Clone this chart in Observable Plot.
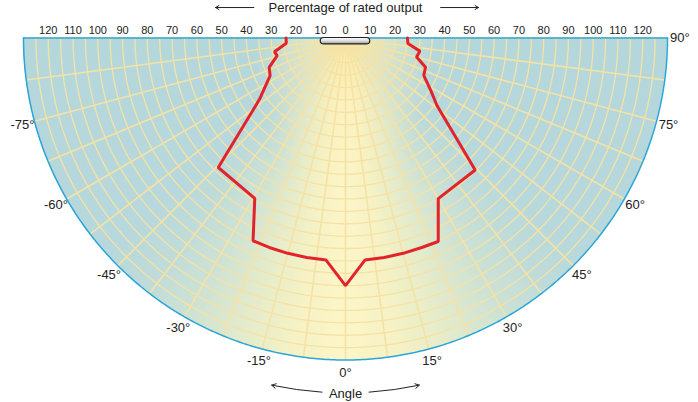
<!DOCTYPE html>
<html><head><meta charset="utf-8">
<script src="https://cdn.jsdelivr.net/npm/d3@7"></script>
<script src="https://cdn.jsdelivr.net/npm/@observablehq/plot@0.6"></script>
<style>
body{margin:0;background:#fff;}
#chart svg{display:block;}
</style>
</head><body><div id="chart"></div>
<script>
// Light distribution: angle from nadir (degrees, + to the right) and percentage of rated output
const curveAngles = [-90, -85, -79, -75.5, -69, -63.5, -55, -53, -44.5, -29.5, -24.5, -20, -15, -10, -5, 0,
                      5, 10, 15, 20, 24.5, 30, 44.5, 53.5, 58.5, 64.5, 70, 75, 80, 85, 90];
const curveValues = [24, 24, 29.2, 28.5, 33, 34, 42, 45.4, 73.3, 74.4, 90, 90, 90, 90, 90, 100,
                      90, 90, 90, 90, 90.3, 74.9, 74.7, 46, 40.3, 35, 34.4, 29.7, 30.5, 25.3, 25];
const outputTicks = [0, 10, 20, 30, 40, 50, 60, 70, 80, 90, 100, 110, 120];
const angleTicks = [-75, -60, -45, -30, -15, 0, 15, 30, 45, 60, 75, 90];
const maxOutput = 130;
const gridRadii = d3.range(5, maxOutput, 5);
const gridAngles = d3.range(-90, 90.01, 7.5);
const luminaire = [{from: -10, to: 10}];
const titleArrows = [{from: -37, to: -52.5}, {from: 38.4, to: 53.7}];
const angleArrowLeft = [{from: -3.8, to: -12}];
const angleArrowRight = [{from: 3.8, to: 12}];
const arrowRadius = 143.3;

const rad = a => a * Math.PI / 180;
const px = (r, a) => r * Math.sin(rad(a));
const py = (r, a) => r * Math.cos(rad(a));

const curve = curveAngles.map((a, i) => ({angle: a, value: curveValues[i]}));
const arcRows = gridRadii.flatMap(r => d3.range(-90, 90.01, 1).map(a => ({r, a})));
const rimRows = d3.range(-90, 90.01, 0.5).map(a => ({r: maxOutput, a}));
const tickRows = [...outputTicks.filter(v => v > 0).map(v => -v).reverse(), ...outputTicks];

const font = "'Liberation Sans', Arial, sans-serif";
const gridColor = "#f5e2a4";
const rimColor = "#2aa5da";

const arrowOpts = (bend) => ({
  x1: d => px(arrowRadius, d.from), y1: d => py(arrowRadius, d.from),
  x2: d => px(arrowRadius, d.to), y2: d => py(arrowRadius, d.to),
  bend, stroke: "#222", strokeWidth: 1, headLength: 7
});

const plot = Plot.plot({
  width: 698, height: 402,
  marginLeft: 23, marginRight: 31, marginTop: 37.5, marginBottom: 42.5,
  x: {domain: [-maxOutput, maxOutput], axis: null},
  y: {domain: [0, maxOutput], reverse: true, axis: null},
  style: {fontFamily: font, fontSize: "12px", color: "#222", background: "transparent"},
  marks: [
    Plot.line(arcRows, {x: d => px(d.r, d.a), y: d => py(d.r, d.a), z: "r", stroke: gridColor, strokeWidth: 1.3}),
    Plot.link(gridAngles, {x1: 0, y1: 0, x2: a => px(maxOutput, a), y2: a => py(maxOutput, a), stroke: gridColor, strokeWidth: 1.6}),
    Plot.line(rimRows, {x: d => px(d.r, d.a), y: d => py(d.r, d.a), stroke: rimColor, strokeWidth: 1.5}),
    Plot.line([-maxOutput, maxOutput], {x: d => d, y: 0, stroke: rimColor, strokeWidth: 1.5}),
    Plot.line(curve, {x: d => px(d.value, d.angle), y: d => py(d.value, d.angle), stroke: "#e2232a", strokeWidth: 3, strokeLinejoin: "miter"}),
    Plot.rect(luminaire, {x1: "from", x2: "to", y1: 0, y2: 2.6, rx: 3.5, fill: "url(#barGrad)", stroke: "#222", strokeWidth: 1.2}),
    Plot.text(tickRows, {x: d => d, y: 0, text: d => String(Math.abs(d)), dy: -8, fontSize: 11, fill: "#222"}),
    Plot.text(angleTicks, {x: a => px(135, a), y: a => py(135, a), text: a => `${a}°`, fontSize: 13, fill: "#222"}),
    Plot.text(["Percentage of rated output"], {x: 0, y: -12.1, text: d => d, fontSize: 13, fill: "#222"}),
    Plot.arrow(titleArrows, {x1: "from", x2: "to", y1: -12.3, y2: -12.3, stroke: "#222", strokeWidth: 1, headLength: 6}),
    Plot.text(["Angle"], {x: 0, y: 143.6, text: d => d, fontSize: 13, fill: "#222"}),
    Plot.arrow(angleArrowLeft, arrowOpts(4)),
    Plot.arrow(angleArrowRight, arrowOpts(-4))
  ]
});

document.getElementById("chart").appendChild(plot);

// Decorative background: light beam shading (clipped semicircle) and luminaire gradient
const svg = d3.select(plot);
const xs = plot.scale("x"), ys = plot.scale("y");
const cx = xs.apply(0), cy = ys.apply(0);
const R = xs.apply(maxOutput) - cx;

const defs = svg.insert("defs", ":first-child");
const g = defs.append("linearGradient").attr("id", "barGrad").attr("x1", 0).attr("y1", 0).attr("x2", 0).attr("y2", 1);
g.append("stop").attr("offset", "0%").attr("stop-color", "#ffffff");
g.append("stop").attr("offset", "45%").attr("stop-color", "#e4e4e4");
g.append("stop").attr("offset", "100%").attr("stop-color", "#9a9a9a");

const fo = svg.insert("foreignObject", "defs + *")
  .attr("x", cx - R).attr("y", cy).attr("width", 2 * R).attr("height", R);
const stops = [
  [0, "#b4d7dc"], [42, "#b7d8dc"], [52, "#c0dcd9"], [62, "#d0e3d3"], [72, "#e6ecca"], [81, "#f6f2c5"], [90, "#fcf5c8"],
  [99, "#f6f2c5"], [108, "#e6ecca"], [118, "#d0e3d3"], [128, "#c0dcd9"], [138, "#b7d8dc"], [180, "#b4d7dc"]
].map(([a, c]) => `${c} ${a}deg`).join(", ");
fo.append("xhtml:div")
  .style("width", `${2 * R}px`).style("height", `${R}px`)
  .style("border-radius", `0 0 ${R}px ${R}px`)
  .style("background",
    `radial-gradient(ellipse ${R * 0.28}px ${R * 0.5}px at ${R}px 0px, rgba(253,234,165,0.95) 0%, rgba(252,240,185,0.55) 45%, rgba(252,244,200,0) 100%), ` +
    `conic-gradient(from 90deg at ${R}px 0px, ${stops})`);
</script>
</body></html>
